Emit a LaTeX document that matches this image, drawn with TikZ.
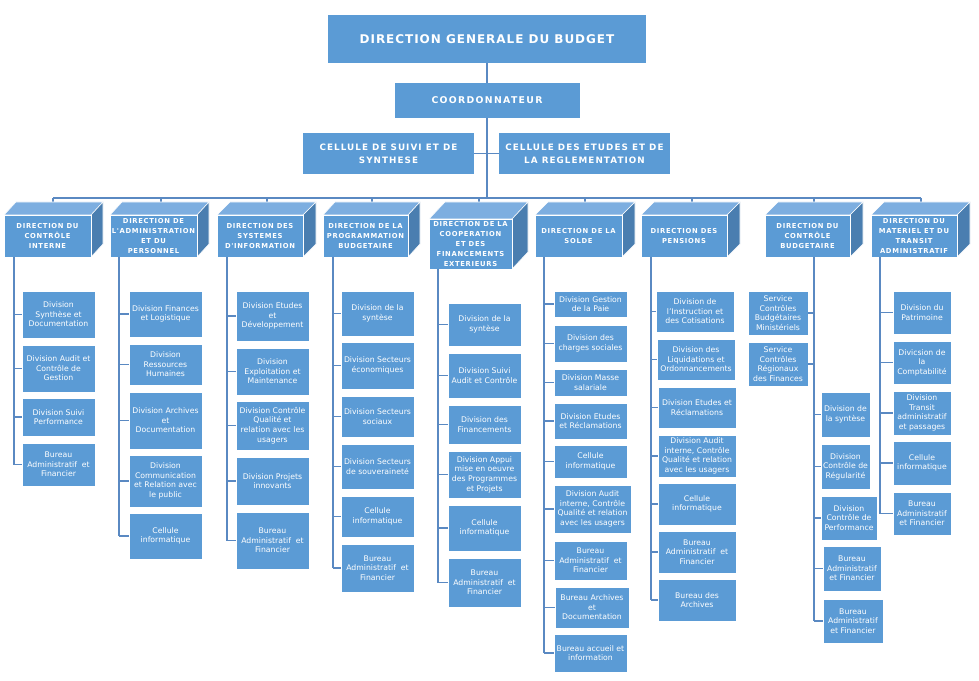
\documentclass[tikz,border=0pt]{standalone}
\usepackage{fontspec}
\setmainfont{DejaVu Sans}
\newfontfamily\hfont[LetterSpace=10]{DejaVu Sans}
\newfontfamily\tfont[LetterSpace=8]{DejaVu Sans}
\newfontfamily\cofont[LetterSpace=14]{DejaVu Sans}
\newfontfamily\clfont[LetterSpace=12]{DejaVu Sans}
\definecolor{bx}{HTML}{5B9BD5}
\definecolor{tp}{HTML}{7DAEE0}
\definecolor{sd}{HTML}{4A7EB0}
\definecolor{lnc}{HTML}{5A89C2}
\tikzset{
  cbox/.style={fill=bx, draw=white, line width=0.4pt, text=white, align=center, inner sep=0pt,
    font=\fontsize{5.8}{7.2}\selectfont},
  front/.style={fill=bx, draw=white, line width=0.5pt, text=white, align=center, inner sep=0pt,
    font=\hfont\bfseries\fontsize{5.1}{7.5}\selectfont},
  topbox/.style={fill=bx, text=white, align=center, inner sep=0pt},
  conn/.style={draw=lnc, line width=1.1pt},
  topface/.style={fill=tp, draw=white, line width=0.4pt},
  sideface/.style={fill=sd, draw=white, line width=0.4pt}
}
\newcommand\cbx[6]{\node[cbox,minimum width={(#4-#2)*0.75pt},minimum height={(#5-#3)*0.75pt}] (#1) at ({(#2+#4)/2},{(#3+#5)/2}) {#6};}
\newcommand\dbx[8]{%
  \filldraw[topface] (#2,#3) -- ({#2+#6},{#3-#7}) -- ({#4+#6},{#3-#7}) -- (#4,#3) -- cycle;
  \filldraw[sideface] (#4,#3) -- ({#4+#6},{#3-#7}) -- ({#4+#6},{#5-#7}) -- (#4,#5) -- cycle;
  \node[front,minimum width={(#4-#2)*0.75pt},minimum height={(#5-#3)*0.75pt}] (#1) at ({(#2+#4)/2},{(#3+#5)/2}) {#8};}
\newcommand\tk[2]{\draw[conn] (#1 |- #2.west) -- (#2.west);}
\begin{document}
\begin{tikzpicture}[x=0.75pt,y=-0.75pt]
\useasboundingbox[fill=white] (0,0) rectangle (979,681);

% top
\node[topbox,minimum width={(646-328)*0.75pt},minimum height={(63-15)*0.75pt},font=\tfont\bfseries\fontsize{9}{11}\selectfont] (dg) at (487,39) {DIRECTION GENERALE DU BUDGET};
\node[topbox,minimum width={(579-394)*0.75pt},minimum height={(118-83)*0.75pt},font=\cofont\bfseries\fontsize{7}{9}\selectfont] (co) at (487,100.5) {COORDONNATEUR};
\node[topbox,minimum width={(474-303)*0.75pt},minimum height={(174-133)*0.75pt},font=\clfont\bfseries\fontsize{6.6}{9.5}\selectfont] (cs) at (388.5,153.5) {CELLULE DE SUIVI ET DE\\SYNTHESE};
\node[topbox,minimum width={(670-499)*0.75pt},minimum height={(174-133)*0.75pt},font=\clfont\bfseries\fontsize{6.6}{9.5}\selectfont] (ce) at (584.5,153.5) {CELLULE DES ETUDES ET DE\\LA REGLEMENTATION};

\coordinate (bm) at (487,198);
\coordinate (bL) at (53,198);
\coordinate (bR) at (921,198);
\draw[conn] (dg.south) -- (co.north);
\draw[conn] (co.south) -- (bm);
\draw[conn] (cs.east) -- (ce.west);
\draw[conn] (bL) -- (bR);

% drop points
\coordinate (d1) at (53,202);
\coordinate (d2) at (161,202);
\coordinate (d3) at (267,202);
\coordinate (d4) at (372,202);
\coordinate (d5) at (479,202);
\coordinate (d6) at (585,202);
\coordinate (d7) at (692,202);
\coordinate (d8) at (814,202);
\coordinate (d9) at (921,202);
\foreach \d in {d1,d2,d3,d4,d5,d6,d7,d8,d9} {\draw[conn] (\d |- bL) -- (\d);}

% directions
\dbx{h1}{4}{215}{91}{257}{12}{13}{DIRECTION DU\\CONTRÔLE\\INTERNE}
\dbx{h2}{110}{215}{197}{257}{12}{13}{DIRECTION DE\\L'ADMINISTRATION\\ET DU\\PERSONNEL}
\dbx{h3}{217}{215}{303}{257}{13}{13}{DIRECTION DES\\SYSTEMES\\D'INFORMATION}
\dbx{h4}{323}{215}{408}{257}{12}{13}{DIRECTION DE LA\\PROGRAMMATION\\BUDGETAIRE}
\dbx{h5}{429}{219}{512}{269}{16}{17}{DIRECTION DE LA\\COOPERATION\\ET DES\\FINANCEMENTS\\EXTERIEURS}
\dbx{h6}{535}{215}{622}{257}{13}{13}{DIRECTION DE LA\\SOLDE}
\dbx{h7}{641}{215}{727}{257}{13}{13}{DIRECTION DES\\PENSIONS}
\dbx{h8}{765}{215}{850}{257}{13}{13}{DIRECTION DU\\CONTRÔLE\\BUDGETAIRE}
\dbx{h9}{871}{215}{957}{257}{13}{13}{DIRECTION DU\\MATERIEL ET DU\\TRANSIT\\ADMINISTRATIF}

% trunk tops
\coordinate (t1) at (14,257);
\coordinate (t2) at (119,257);
\coordinate (t3) at (227,257);
\coordinate (t4) at (333,257);
\coordinate (t5) at (438,269);
\coordinate (t6) at (544,257);
\coordinate (t7) at (651,257);
\coordinate (t8) at (814,257);
\coordinate (t9) at (880,257);

% column 1
\cbx{c11}{22}{291}{95}{338}{Division\\Synthèse et\\Documentation}
\cbx{c12}{22}{345}{95}{392}{Division Audit et\\Contrôle de\\Gestion}
\cbx{c13}{22}{398}{95}{436}{Division Suivi\\Performance}
\cbx{c14}{22}{443}{95}{486}{Bureau\\Administratif \ et\\Financier}
\draw[conn] (t1) -- (t1 |- c14.west);
\foreach \c in {c11,c12,c13,c14} {\tk{t1}{\c}}

% column 2
\cbx{c21}{129}{291}{202}{337}{Division Finances\\et Logistique}
\cbx{c22}{129}{344}{202}{385}{Division\\Ressources\\Humaines}
\cbx{c23}{129}{392}{202}{449}{Division Archives\\et\\Documentation}
\cbx{c24}{129}{455}{202}{507}{Division\\Communication\\et Relation avec\\le public}
\cbx{c25}{129}{513}{202}{559}{Cellule\\informatique}
\draw[conn] (t2) -- (t2 |- c25.west);
\foreach \c in {c21,c22,c23,c24,c25} {\tk{t2}{\c}}

% column 3
\cbx{c31}{236}{291}{309}{341}{Division Etudes\\et\\Développement}
\cbx{c32}{236}{348}{309}{395}{Division\\Exploitation et\\Maintenance}
\cbx{c33}{236}{401}{309}{450}{Division Contrôle\\Qualité et\\relation avec les\\usagers}
\cbx{c34}{236}{457}{309}{505}{Division Projets\\innovants}
\cbx{c35}{236}{512}{309}{569}{Bureau\\Administratif \ et\\Financier}
\draw[conn] (t3) -- (t3 |- c35.west);
\foreach \c in {c31,c32,c33,c34,c35} {\tk{t3}{\c}}

% column 4
\cbx{c41}{341}{291}{414}{336}{Division de la\\syntèse}
\cbx{c42}{341}{342}{414}{389}{Division Secteurs\\économiques}
\cbx{c43}{341}{396}{414}{437}{Division Secteurs\\sociaux}
\cbx{c44}{341}{444}{414}{489}{Division Secteurs\\de souveraineté}
\cbx{c45}{341}{496}{414}{537}{Cellule\\informatique}
\cbx{c46}{341}{544}{414}{592}{Bureau\\Administratif \ et\\Financier}
\draw[conn] (t4) -- (t4 |- c46.west);
\foreach \c in {c41,c42,c43,c44,c45,c46} {\tk{t4}{\c}}

% column 5
\cbx{c51}{448}{303}{521}{346}{Division de la\\syntèse}
\cbx{c52}{448}{353}{521}{398}{Division Suivi\\Audit et Contrôle}
\cbx{c53}{448}{405}{521}{444}{Division des\\Financements}
\cbx{c54}{448}{451}{521}{498}{Division Appui\\mise en oeuvre\\des Programmes\\et Projets}
\cbx{c55}{448}{505}{521}{551}{Cellule\\informatique}
\cbx{c56}{448}{558}{521}{607}{Bureau\\Administratif \ et\\Financier}
\draw[conn] (t5) -- (t5 |- c56.west);
\foreach \c in {c51,c52,c53,c54,c55,c56} {\tk{t5}{\c}}

% column 6
\cbx{c61}{554}{291}{627}{317}{Division Gestion\\de la Paie}
\cbx{c62}{554}{325}{627}{362}{Division des\\charges sociales}
\cbx{c63}{554}{369}{627}{396}{Division Masse\\salariale}
\cbx{c64}{554}{403}{627}{439}{Division Etudes\\et Réclamations}
\cbx{c65}{554}{445}{627}{478}{Cellule\\informatique}
\cbx{c66}{554}{485}{631}{533}{Division Audit\\interne, Contrôle\\Qualité et relation\\avec les usagers}
\cbx{c67}{554}{541}{627}{580}{Bureau\\Administratif \ et\\Financier}
\cbx{c68}{555}{587}{629}{628}{Bureau Archives\\et\\Documentation}
\cbx{c69}{554}{634}{627}{672}{Bureau accueil et\\information}
\draw[conn] (t6) -- (t6 |- c69.west);
\foreach \c in {c61,c62,c63,c64,c65,c66,c67,c68,c69} {\tk{t6}{\c}}

% column 7
\cbx{c71}{656}{291}{734}{332}{Division de\\l'Instruction et\\des Cotisations}
\cbx{c72}{657}{339}{735}{380}{Division des\\Liquidations et\\Ordonnancements}
\cbx{c73}{658}{387}{736}{428}{Division Etudes et\\Réclamations}
\cbx{c74}{658}{435}{736}{477}{Division Audit\\interne, Contrôle\\Qualité et relation\\avec les usagers}
\cbx{c75}{658}{483}{736}{525}{Cellule\\informatique}
\cbx{c76}{658}{531}{736}{573}{Bureau\\Administratif \ et\\Financier}
\cbx{c77}{658}{579}{736}{621}{Bureau des\\Archives}
\draw[conn] (t7) -- (t7 |- c77.west);
\foreach \c in {c71,c72,c73,c74,c75,c76,c77} {\tk{t7}{\c}}

% column 8
\cbx{s81}{748}{291}{808}{335}{Service\\Contrôles\\Budgétaires\\Ministériels}
\cbx{s82}{748}{342}{808}{386}{Service\\Contrôles\\Régionaux\\des Finances}
\cbx{c81}{821}{392}{870}{437}{Division de\\la syntèse}
\cbx{c82}{821}{444}{870}{489}{Division\\Contrôle de\\Régularité}
\cbx{c83}{821}{496}{877}{540}{Division\\Contrôle de\\Performance}
\cbx{c84}{823}{546}{881}{591}{Bureau\\Administratif\\et Financier}
\cbx{c85}{823}{599}{883}{643}{Bureau\\Administratif\\et Financier}
\draw[conn] (t8) -- (t8 |- c85.west);
\foreach \c in {s81,s82} {\draw[conn] (t8 |- \c.east) -- (\c.east);}
\foreach \c in {c81,c82,c83,c84,c85} {\tk{t8}{\c}}

% column 9
\cbx{c91}{893}{291}{951}{334}{Division du\\Patrimoine}
\cbx{c92}{893}{341}{951}{384}{Divicsion de\\la\\Comptabilité}
\cbx{c93}{893}{391}{951}{435}{Division\\Transit\\administratif\\et passages}
\cbx{c94}{893}{441}{951}{485}{Cellule\\informatique}
\cbx{c95}{893}{492}{951}{535}{Bureau\\Administratif\\et Financier}
\draw[conn] (t9) -- (t9 |- c95.west);
\foreach \c in {c91,c92,c93,c94,c95} {\tk{t9}{\c}}
\end{tikzpicture}
\end{document}
